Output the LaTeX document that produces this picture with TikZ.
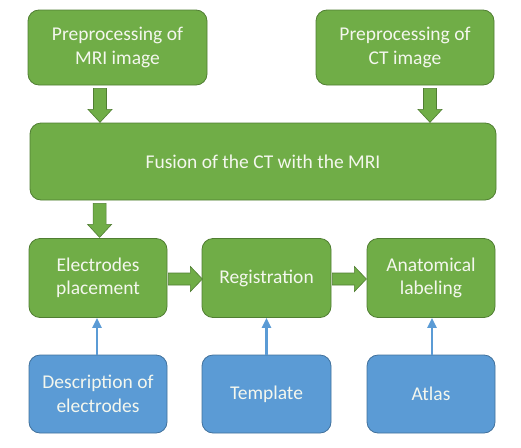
\documentclass[tikz,border=0pt]{standalone}
\usepackage{fontspec}
\setmainfont{Carlito}
\usetikzlibrary{arrows.meta,calc}
\definecolor{gfill}{HTML}{70AD47}
\definecolor{gline}{HTML}{507E32}
\definecolor{bfill}{HTML}{5B9BD5}
\definecolor{bline}{HTML}{41719C}
\definecolor{tcol}{HTML}{F4F7EE}
\tikzset{
  box/.style={draw, line width=0.8pt, rounded corners=11pt, align=center, text=tcol,
    font=\fontsize{19.5}{23.4}\selectfont, inner sep=0pt},
  gbox/.style={box, fill=gfill, draw=gline},
  bbox/.style={box, fill=bfill, draw=bline},
  garrow/.style={fill=gfill, draw=gline, line width=0.6pt, line join=miter},
  barrow/.style={draw=bfill, line width=2.4pt, -{Triangle[length=10pt,width=9pt]}},
}
\begin{document}
\begin{tikzpicture}[x=1pt,y=-1pt]
\useasboundingbox (0,0) rectangle (521,447);
% top boxes
\node[gbox, minimum width=179pt, minimum height=75pt] (mri) at (117.5,47.5) {Preprocessing of\\MRI image};
\node[gbox, minimum width=178pt, minimum height=75pt] (ct) at (405,47.5) {Preprocessing of\\CT image};
\node[gbox, minimum width=466pt, minimum height=77pt] (fus) at (263,161.5) {Fusion of the CT with the MRI};
% middle row
\node[gbox, minimum width=138pt, minimum height=79pt] (ele) at (98,278) {Electrodes\\placement};
\node[gbox, minimum width=129pt, minimum height=79pt] (reg) at (266.5,278) {Registration};
\node[gbox, minimum width=128pt, minimum height=79pt] (ana) at (431,278) {Anatomical\\labeling};
% bottom row
\node[bbox, minimum width=138pt, minimum height=78pt] (des) at (98,394) {Description of\\electrodes};
\node[bbox, minimum width=129pt, minimum height=78pt] (tem) at (266.5,394) {Template};
\node[bbox, minimum width=128pt, minimum height=78pt] (atl) at (431,394) {Atlas};
% block arrows (down)
\coordinate (d1) at ($(mri.south)+(-17.5,3)$);
\coordinate (d2) at ($(ct.south)+(25,3)$);
\coordinate (d3) at ($(fus.south west)+(70,3)$);
\foreach \c in {d1,d2,d3}{
  \draw[garrow] ($(\c)+(-6.5,0)$) -- ($(\c)+(6.5,0)$) -- ($(\c)+(6.5,21)$) -- ($(\c)+(12,21)$)
    -- ($(\c)+(0,34)$) -- ($(\c)+(-12,21)$) -- ($(\c)+(-6.5,21)$) -- cycle;
}
% block arrows (right)
\coordinate (r1) at ($(ele.east)+(1,1)$);
\coordinate (r2) at ($(reg.east)+(1,1)$);
\foreach \c in {r1,r2}{
  \draw[garrow] ($(\c)+(0,-6)$) -- ($(\c)+(22,-6)$) -- ($(\c)+(22,-12.5)$) -- ($(\c)+(34,0)$)
    -- ($(\c)+(22,12.5)$) -- ($(\c)+(22,6)$) -- ($(\c)+(0,6)$) -- cycle;
}
% blue arrows
\draw[barrow] ($(des.north)+(-1,0)$) -- ($(ele.south)+(-1,0)$);
\draw[barrow] (tem.north) -- (reg.south);
\draw[barrow] ($(atl.north)+(1,0)$) -- ($(ana.south)+(1,0)$);
\end{tikzpicture}
\end{document}
